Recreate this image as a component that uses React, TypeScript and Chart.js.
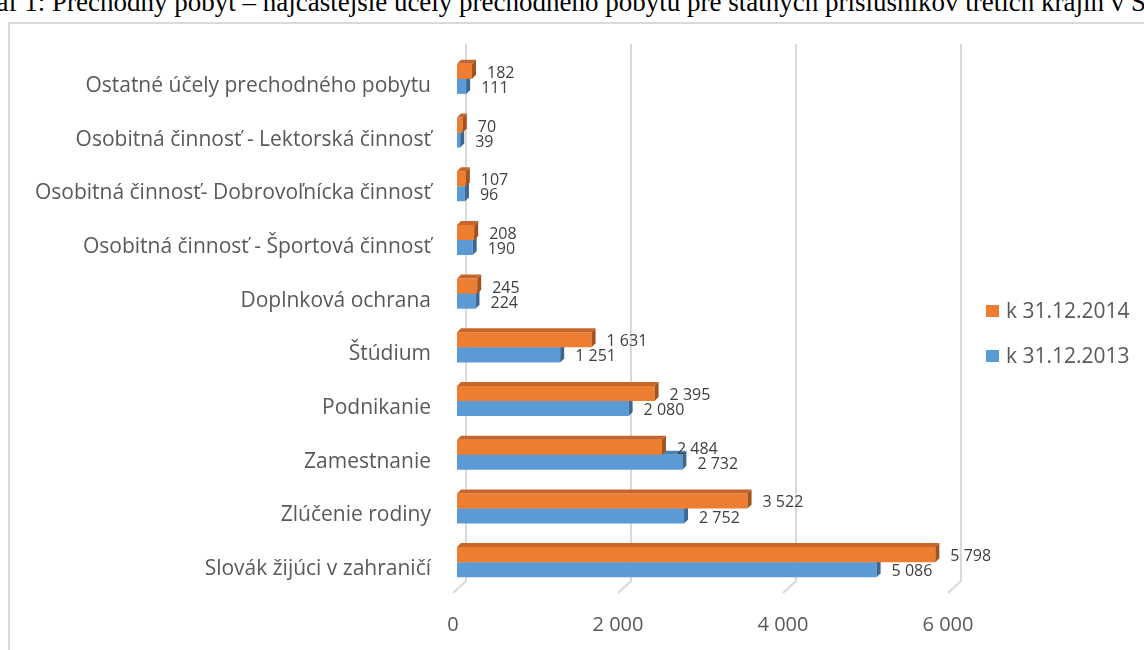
import React, { useEffect, useRef } from "react";
import { Chart, registerables } from "chart.js";

Chart.register(...registerables);

const categories = [
  "Ostatné účely prechodného pobytu",
  "Osobitná činnosť - Lektorská činnosť",
  "Osobitná činnosť- Dobrovoľnícka činnosť",
  "Osobitná činnosť - Športová činnosť",
  "Doplnková ochrana",
  "Štúdium",
  "Podnikanie",
  "Zamestnanie",
  "Zlúčenie rodiny",
  "Slovák žijúci v zahraničí",
];
const values2014 = [182, 70, 107, 208, 245, 1631, 2395, 2484, 3522, 5798];
const values2013 = [111, 39, 96, 190, 224, 1251, 2080, 2732, 2752, 5086];
const seriesLabels = ["k 31.12.2014", "k 31.12.2013"];
const xTicks = [0, 2000, 4000, 6000];
const titleText =
  "Graf 1: Prechodný pobyt – najčastejšie účely prechodného pobytu pre štátnych príslušníkov tretích krajín v SR";

const FRONT = ["#ED7D31", "#5B9BD5"];
const TOP = ["#C8652A", "#4A80B2"];
const SIDE = ["#A3521C", "#3A6894"];
const FONT = "'Open Sans', 'DejaVu Sans', sans-serif";

const fmt = (v: number) => String(v).replace(/\B(?=(\d{3})+(?!\d))/g, " ");

const depth = 4;

const bar3d = {
  id: "bar3d",
  beforeDatasetsDraw(chart: any) {
    const ctx = chart.ctx;
    const xs = chart.scales.x;
    const { top, bottom } = chart.chartArea;
    ctx.save();
    ctx.strokeStyle = "#d9d9d9";
    ctx.lineWidth = 2;
    xTicks.forEach((v) => {
      const x = xs.getPixelForValue(v);
      ctx.beginPath();
      ctx.moveTo(x + 9, top - 8);
      ctx.lineTo(x + 9, bottom - 8);
      ctx.lineTo(x - 4, bottom + 4);
      ctx.stroke();
    });
    ctx.restore();
  },
  afterDatasetDraw(chart: any, args: any) {
    const ctx = chart.ctx;
    const i = args.index;
    const meta = chart.getDatasetMeta(i);
    ctx.save();
    meta.data.forEach((el: any) => {
      const { x, y, base, height } = el.getProps(["x", "y", "base", "height"], true);
      const t = y - height / 2;
      const b = y + height / 2;
      const l = base;
      const r = x;
      ctx.fillStyle = TOP[i];
      ctx.beginPath();
      ctx.moveTo(l, t);
      ctx.lineTo(l + depth, t - depth);
      ctx.lineTo(r + depth, t - depth);
      ctx.lineTo(r, t);
      ctx.closePath();
      ctx.fill();
      ctx.fillStyle = SIDE[i];
      ctx.beginPath();
      ctx.moveTo(r, t);
      ctx.lineTo(r + depth, t - depth);
      ctx.lineTo(r + depth, b - depth);
      ctx.lineTo(r, b);
      ctx.closePath();
      ctx.fill();
    });
    ctx.restore();
  },
  afterDatasetsDraw(chart: any) {
    const ctx = chart.ctx;
    ctx.save();
    ctx.font = `16px ${FONT}`;
    ctx.fillStyle = "#404040";
    ctx.textAlign = "left";
    ctx.textBaseline = "middle";
    chart.data.datasets.forEach((ds: any, i: number) => {
      const meta = chart.getDatasetMeta(i);
      meta.data.forEach((el: any, j: number) => {
        const { x, y } = el.getProps(["x", "y"], true);
        ctx.fillText(fmt(ds.data[j]), x + 15, y + 2);
      });
    });
    ctx.font = `21px ${FONT}`;
    const ly = [311, 356];
    chart.data.datasets.forEach((ds: any, i: number) => {
      ctx.fillStyle = FRONT[i];
      ctx.fillRect(986, ly[i] - 6, 13, 12);
      ctx.fillStyle = "#595959";
      ctx.fillText(ds.label, 1006, ly[i] + 1);
    });
    ctx.restore();
  },
};

export default function App() {
  const ref = useRef<HTMLCanvasElement>(null);
  useEffect(() => {
    if (!ref.current) return;
    const chart = new Chart(ref.current, {
      type: "bar",
      data: {
        labels: categories,
        datasets: [
          { label: seriesLabels[0], data: values2014, backgroundColor: FRONT[0], borderWidth: 0 },
          { label: seriesLabels[1], data: values2013, backgroundColor: FRONT[1], borderWidth: 0 },
        ],
      },
      options: {
        indexAxis: "y",
        responsive: false,
        animation: false,
        maintainAspectRatio: false,
        categoryPercentage: 0.56,
        barPercentage: 1,
        layout: { padding: { top: 52, right: 192, left: 0, bottom: 0 } },
        plugins: { legend: { display: false }, tooltip: { enabled: false } },
        scales: {
          x: {
            min: 0,
            max: 6000,
            afterFit: (s: any) => {
              s.height = 61;
            },
            afterBuildTicks: (s: any) => {
              s.ticks = xTicks.map((v) => ({ value: v }));
            },
            grid: { display: false, drawTicks: false },
            border: { display: false },
            ticks: {
              padding: 24,
              labelOffset: -4,
              color: "#595959",
              font: { family: FONT, size: 20 },
              callback: (v: any) => fmt(Number(v)),
            },
          },
          y: {
            afterFit: (s: any) => {
              s.width = 457;
            },
            grid: { display: false, drawTicks: false },
            border: { display: false },
            ticks: {
              padding: 26,
              labelOffset: 7,
              color: "#595959",
              font: { family: FONT, size: 21 },
            },
          },
        },
      },
      plugins: [bar3d],
    });
    return () => chart.destroy();
  }, []);

  return (
    <div
      style={{
        position: "fixed",
        left: 0,
        top: 0,
        width: 1144,
        height: 650,
        overflow: "hidden",
        background: "#fff",
      }}
    >
      <div
        style={{
          position: "absolute",
          left: -40,
          top: -13,
          width: 1212,
          textAlign: "center",
          whiteSpace: "nowrap",
          fontFamily: "'Liberation Serif', 'Times New Roman', serif",
          fontSize: 27,
          lineHeight: "30px",
          color: "#000",
        }}
      >
        {titleText}
      </div>
      <div
        style={{
          position: "absolute",
          left: 8,
          top: 22,
          width: 1300,
          height: 800,
          border: "2px solid #d9d9d9",
          background: "#fff",
        }}
      />
      <canvas
        ref={ref}
        width={1144}
        height={650}
        style={{ position: "absolute", left: 0, top: 0, width: 1144, height: 650 }}
      />
    </div>
  );
}
